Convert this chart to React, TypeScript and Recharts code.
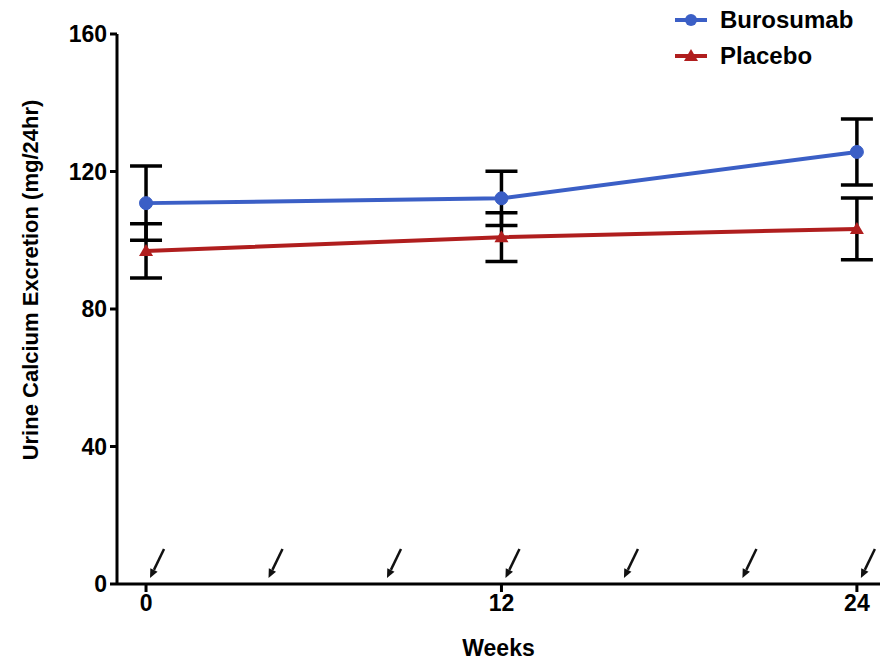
import { ComposedChart, Line, Scatter, XAxis, YAxis, ErrorBar, Legend, Label } from 'recharts';

const weeks = [0, 12, 24];
const burosumab = [110.8, 112.2, 125.7];
const burosumabSE = [10.8, 7.9, 9.6];
const placebo = [96.9, 100.9, 103.3];
const placeboSE = [7.9, 7.1, 9.0];
const dosingWeeks = [0, 4, 8, 12, 16, 20, 24];
const xTicks = [0, 12, 24];
const yTicks = [0, 40, 80, 120, 160];

const BLUE = '#3b5fc6';
const RED = '#b01e1e';
const FONT = '"Liberation Sans", Arial, sans-serif';

const rows = weeks.map((w, i) => ({
  week: w,
  buro: burosumab[i],
  buroErr: burosumabSE[i],
  plac: placebo[i],
  placErr: placeboSE[i],
}));

const arrows = dosingWeeks.map(w => ({ week: w, arrow: 0 }));

function Triangle(props: any) {
  const { cx, cy, fill } = props;
  if (cx == null || cy == null) return null;
  return <path d={`M${cx},${cy - 7} L${cx + 7},${cy + 5} L${cx - 7},${cy + 5} Z`} fill={fill} />;
}

function Arrow(props: any) {
  const { cx, cy } = props;
  if (cx == null || cy == null) return null;
  const tip = { x: cx + 4, y: cy - 6 };
  const tail = { x: cx + 18, y: cy - 35 };
  const dx = tip.x - tail.x;
  const dy = tip.y - tail.y;
  const len = Math.hypot(dx, dy);
  const ux = dx / len, uy = dy / len;
  const bx = tip.x - ux * 9, by = tip.y - uy * 9;
  const px = -uy * 4, py = ux * 4;
  return (
    <g>
      <line x1={tail.x} y1={tail.y} x2={bx} y2={by} stroke="#111" strokeWidth={2.5} />
      <path d={`M${tip.x},${tip.y} L${bx + px},${by + py} L${bx - px},${by - py} Z`} fill="#111" />
    </g>
  );
}

function LegendBox() {
  const items = [
    { name: 'Burosumab', color: BLUE, marker: 'circle' },
    { name: 'Placebo', color: RED, marker: 'triangle' },
  ];
  return (
    <div style={{ fontFamily: FONT }}>
      {items.map(it => (
        <div key={it.name} style={{ display: 'flex', alignItems: 'center', height: 36 }}>
          <svg width={34} height={20}>
            <line x1={1} y1={10} x2={33} y2={10} stroke={it.color} strokeWidth={4} />
            {it.marker === 'circle'
              ? <circle cx={17} cy={10} r={6} fill={it.color} />
              : <path d="M17,3 L24,15 L10,15 Z" fill={it.color} />}
          </svg>
          <span style={{ marginLeft: 12, fontSize: 24, fontWeight: 'bold', color: '#000' }}>{it.name}</span>
        </div>
      ))}
    </div>
  );
}

function YTitle(props: any) {
  const { viewBox } = props;
  const cy = viewBox.y + viewBox.height / 2 - 29;
  return (
    <text
      x={38}
      y={cy}
      transform={`rotate(-90, 38, ${cy})`}
      textAnchor="middle"
      fontFamily={FONT}
      fontSize={22}
      fontWeight="bold"
      fill="#000"
    >
      Urine Calcium Excretion (mg/24hr)
    </text>
  );
}

const tickStyle = { fill: '#000', fontSize: 23, fontWeight: 'bold', fontFamily: FONT };

export default function App() {
  return (
    <div style={{ position: 'absolute', left: 0, top: 0, background: '#fff' }}>
      <ComposedChart width={884} height={662} data={rows} margin={{ top: 34, right: 4, left: 0, bottom: 0 }}>
        <XAxis
          dataKey="week"
          type="number"
          domain={[-0.98, 24.78]}
          ticks={xTicks}
          allowDataOverflow
          height={78}
          axisLine={{ stroke: '#000', strokeWidth: 3 }}
          tickLine={{ stroke: '#000', strokeWidth: 3 }}
          tickSize={8}
          tickMargin={3}
          tick={tickStyle}
        >
          <Label value="Weeks" position="insideBottom" offset={6} fill="#000" fontSize={23} fontWeight="bold" fontFamily={FONT} />
        </XAxis>
        <YAxis
          type="number"
          domain={[0, 160]}
          ticks={yTicks}
          width={117}
          axisLine={{ stroke: '#000', strokeWidth: 3 }}
          tickLine={{ stroke: '#000', strokeWidth: 3 }}
          tickSize={7}
          tickMargin={3}
          tick={tickStyle}
        >
          <Label content={<YTitle />} />
        </YAxis>
        <Legend
          layout="horizontal"
          verticalAlign="middle"
          align="center"
          content={<LegendBox />}
          wrapperStyle={{ position: 'absolute', top: 2, left: 674, width: 210, height: 72 }}
        />
        <Line
          dataKey="plac"
          name="Placebo"
          stroke={RED}
          strokeWidth={4}
          dot={<Triangle fill={RED} />}
          activeDot={false}
          isAnimationActive={false}
        >
          <ErrorBar dataKey="placErr" direction="y" width={16} stroke="#000" strokeWidth={3.5} />
        </Line>
        <Line
          dataKey="buro"
          name="Burosumab"
          stroke={BLUE}
          strokeWidth={4}
          dot={{ r: 6.5, fill: BLUE, stroke: BLUE, strokeWidth: 1 }}
          activeDot={false}
          isAnimationActive={false}
        >
          <ErrorBar dataKey="buroErr" direction="y" width={16} stroke="#000" strokeWidth={3.5} />
        </Line>
        <Scatter data={arrows} dataKey="arrow" shape={<Arrow />} isAnimationActive={false} legendType="none" />
      </ComposedChart>
    </div>
  );
}
